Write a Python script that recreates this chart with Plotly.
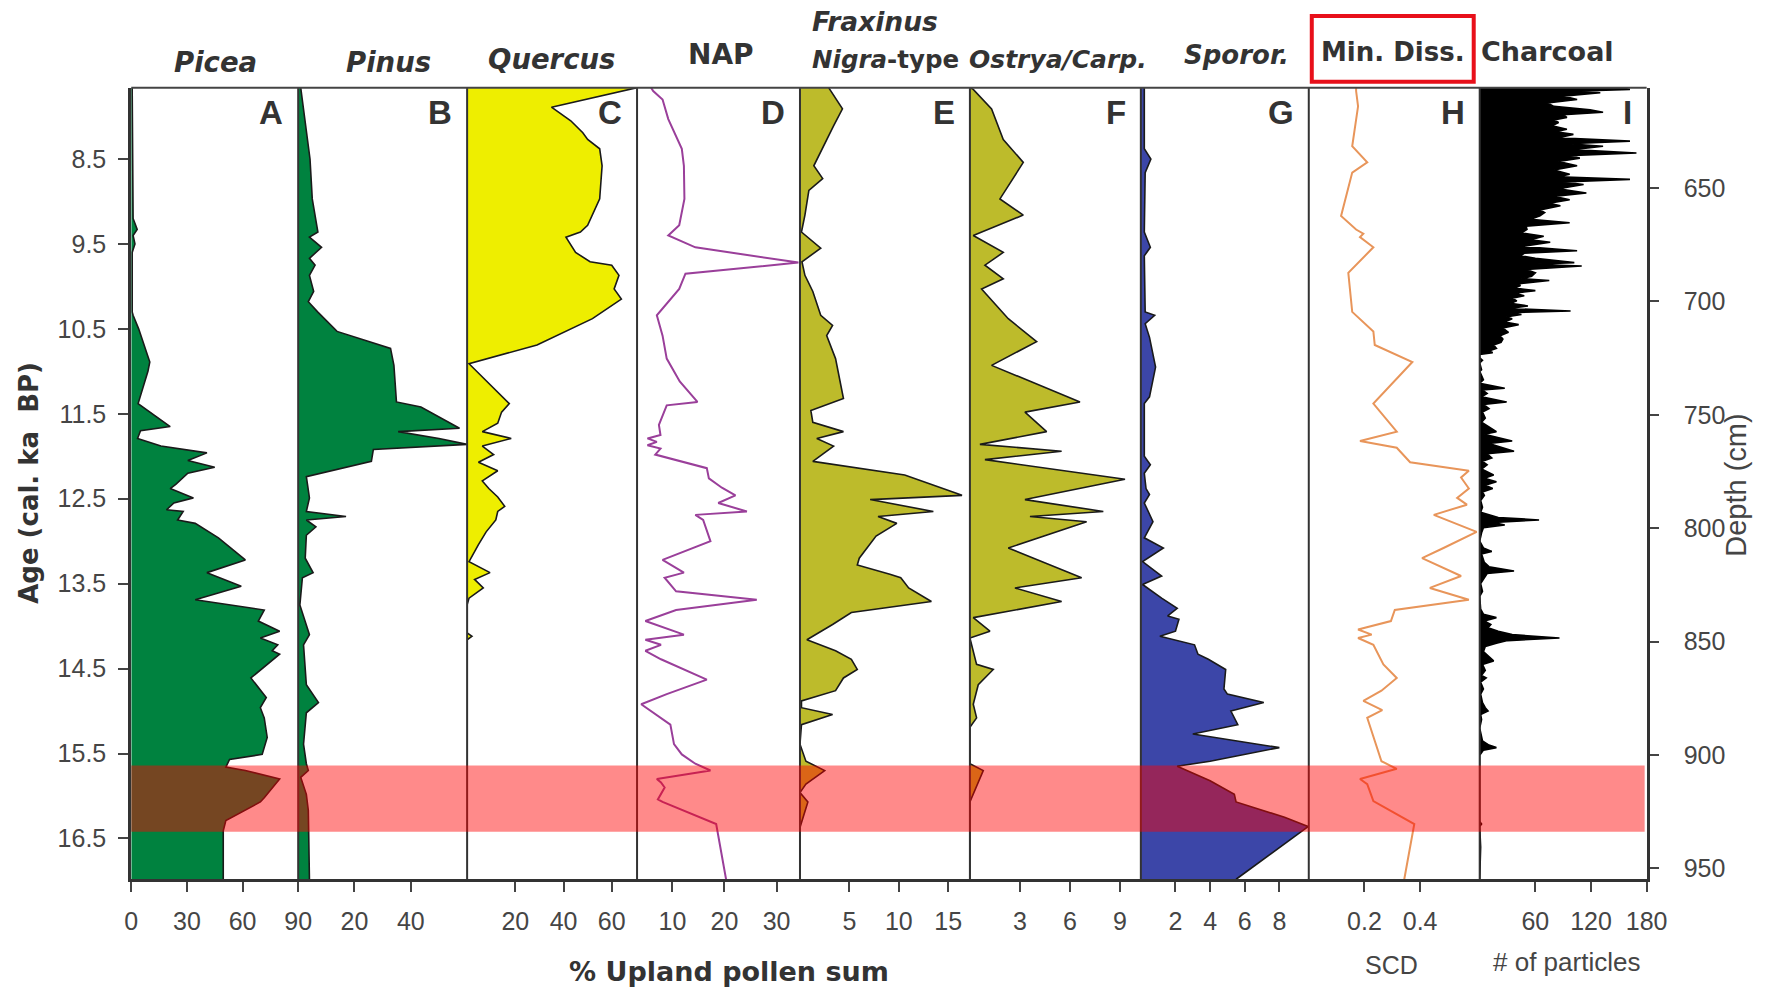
import plotly.graph_objects as go

# ---------------- data (age in cal. ka BP, value on panel scale) ----------------
PICEA = [(7.66, 0.5), (8.5, 0.8), (9.2, 1), (9.33, 3.2), (9.4, 1), (9.5, 2), (9.6, 0.5), (10.3, 0.5),
         (10.34, 1), (10.5, 4), (10.89, 10), (11.0, 9), (11.2, 6), (11.38, 3.7), (11.65, 21), (11.7, 5),
         (11.79, 3.4), (11.88, 16), (11.96, 40.8), (12.05, 30.5), (12.13, 45), (12.2, 30.5), (12.33, 24),
         (12.38, 21), (12.49, 33.5), (12.55, 23), (12.63, 19), (12.65, 28), (12.75, 25), (12.79, 34.5),
         (12.96, 47), (13.22, 61.5), (13.37, 40.8), (13.53, 59.3), (13.69, 34.5), (13.81, 71.7),
         (13.94, 68.5), (14.06, 80), (14.14, 69.6), (14.22, 79), (14.29, 76), (14.33, 80), (14.61, 64.5),
         (14.84, 72.8), (14.96, 69.6), (15.08, 71.7), (15.31, 73.3), (15.51, 70.6), (15.57, 53),
         (15.66, 51), (15.70, 61.5), (15.80, 80), (16.02, 71.7), (16.07, 69.6), (16.29, 51),
         (16.41, 49.6), (16.98, 49.6)]

PINUS = [(7.66, 0.9), (8.19, 2.9), (8.5, 4.2), (8.97, 5), (9.36, 7), (9.42, 4), (9.54, 8.3), (9.67, 4),
         (9.75, 6), (9.87, 4), (10.06, 5.5), (10.18, 3.6), (10.3, 6.9), (10.53, 13.8), (10.73, 32.8),
         (10.93, 34), (11.36, 34.9), (11.42, 43.6), (11.67, 57.3), (11.71, 35.5), (11.79, 50),
         (11.86, 60), (11.92, 26.7), (12.06, 26), (12.24, 2.9), (12.49, 4), (12.65, 2.9), (12.71, 17),
         (12.75, 2.9), (12.83, 6.3), (12.93, 2.9), (13.2, 2.5), (13.37, 5.3), (13.43, 1.5), (13.75, 0.6),
         (14.1, 4), (14.22, 1.9), (14.69, 2.9), (14.9, 7.2), (15.02, 2.9), (15.39, 1.9), (15.62, 2.9),
         (15.70, 3.6), (15.78, 0.9), (15.98, 2.9), (16.17, 3.6), (16.98, 4)]

QUERCUS = [(7.66, 70.5), (7.89, 35), (8.05, 43), (8.19, 48), (8.27, 50), (8.38, 55), (8.58, 56),
           (8.97, 55), (9.28, 50), (9.36, 47), (9.42, 41), (9.6, 45), (9.71, 51), (9.75, 60), (9.87, 63),
           (10.03, 61), (10.15, 64), (10.3, 56), (10.38, 52), (10.69, 29), (10.91, 0.8), (11.38, 17.5),
           (11.48, 14.3), (11.61, 12.7), (11.71, 6.3), (11.79, 18.3), (11.88, 6.3), (11.98, 11),
           (12.07, 4.7), (12.17, 12.7), (12.29, 6.3), (12.38, 9), (12.48, 12.7), (12.59, 15.6),
           (12.65, 12.7), (12.75, 11.9), (12.89, 7.9), (13.04, 4.7), (13.24, 0.8), (13.37, 9.5),
           (13.45, 3.1), (13.55, 6.7), (13.67, 0.8), (13.75, 0), (14.08, 0), (14.12, 2), (14.16, 0),
           (16.98, 0)]

NAP = [(7.66, 5.9), (7.70, 6.3), (7.80, 8.1), (8.03, 9.2), (8.38, 11.8), (8.58, 12.2), (8.97, 12.3),
       (9.28, 11.3), (9.40, 9.2), (9.54, 14.4), (9.72, 34.2), (9.85, 12.5), (10.03, 11.3), (10.34, 7),
       (10.58, 8.1), (10.85, 8.9), (11.12, 11.4), (11.36, 14.8), (11.40, 8.9), (11.63, 7.4), (11.75, 7.7),
       (11.79, 5.2), (11.83, 7), (11.87, 5.2), (11.91, 7.7), (11.98, 6.7), (12.14, 16.6), (12.26, 17),
       (12.37, 19.5), (12.46, 22.1), (12.55, 18.8), (12.65, 24.3), (12.69, 14.4), (12.75, 15.9),
       (13.0, 17.3), (13.22, 8.1), (13.37, 12.2), (13.43, 8.5), (13.59, 10.7), (13.69, 26.2),
       (13.81, 10.7), (13.94, 4.8), (14.1, 12.2), (14.16, 4.8), (14.22, 7.8), (14.29, 4.8), (14.39, 7.8),
       (14.63, 16.6), (14.8, 8.9), (14.92, 4), (15.16, 9.6), (15.39, 10.3), (15.51, 11.8), (15.62, 14.4),
       (15.7, 17.3), (15.8, 7), (15.84, 7.8), (15.9, 8.5), (16.04, 7.2), (16.07, 8.1), (16.33, 18.4),
       (16.98, 20.3)]

FRAXINUS = [(7.66, 2.9), (7.91, 4.3), (8.11, 3.4), (8.42, 2.1), (8.58, 1.4), (8.73, 2.3), (8.87, 0.9),
            (9.16, 0.5), (9.36, 0.15), (9.55, 2.1), (9.71, 0.2), (9.87, 0.5), (10.06, 1.3), (10.34, 2.1),
            (10.46, 3.3), (10.58, 2.7), (10.85, 3.6), (11.32, 4.4), (11.46, 1.1), (11.6, 1.3),
            (11.71, 4.4), (11.79, 1.7), (11.88, 3.4), (12.06, 1.3), (12.22, 10.6), (12.46, 16.4),
            (12.51, 7.1), (12.65, 13.5), (12.71, 7.9), (12.79, 9.8), (12.94, 7.7), (13.2, 6), (13.28, 5.8),
            (13.39, 9.1), (13.43, 10.2), (13.55, 11), (13.71, 13.3), (13.84, 5.2), (13.98, 3.3),
            (14.16, 0.7), (14.29, 3.6), (14.39, 5.2), (14.51, 5.8), (14.61, 4.4), (14.76, 3.6),
            (14.88, 0.15), (14.96, 0.15), (15.04, 3.3), (15.16, 0.15), (15.39, 0), (15.59, 0.6),
            (15.7, 2.5), (15.86, 0.6), (15.96, 0), (16.07, 0.8), (16.37, 0), (16.98, 0)]

OSTRYA = [(7.66, 0), (7.68, 0.2), (7.91, 1.3), (8.27, 2), (8.54, 3.2), (8.81, 2.3), (8.97, 1.8),
          (9.16, 3.2), (9.40, 0.2), (9.6, 2), (9.75, 0.9), (9.91, 2), (10.03, 0.7), (10.38, 2.3),
          (10.65, 4), (10.93, 1.3), (11.36, 6.6), (11.48, 3.3), (11.71, 4.6), (11.86, 0.6), (11.94, 5.5),
          (12.04, 0.9), (12.27, 9.3), (12.51, 3.3), (12.65, 8), (12.71, 3.6), (12.77, 7), (13.08, 2.3),
          (13.43, 6.7), (13.55, 2.7), (13.71, 5.5), (13.9, 0.2), (14.06, 1.2), (14.14, 0), (14.45, 0.4),
          (14.51, 1.4), (14.69, 0.5), (14.92, 0.2), (15.08, 0.4), (15.19, 0), (15.62, 0), (15.7, 0.8),
          (16.07, 0), (16.98, 0)]

SPOROR = [(7.66, 0.2), (8.38, 0.2), (8.5, 0.58), (8.66, 0.25), (9.36, 0.2), (9.54, 0.55), (9.64, 0.2),
          (10.3, 0.25), (10.34, 0.8), (10.44, 0.25), (10.6, 0.5), (10.95, 0.85), (11.3, 0.5), (11.38, 0.2),
          (12.0, 0.2), (12.1, 0.55), (12.2, 0.2), (12.38, 0.3), (12.45, 0.5), (12.55, 0.2), (12.77, 0.7),
          (12.96, 0.2), (13.08, 1.3), (13.24, 0.1), (13.41, 1.2), (13.51, 0.1), (13.67, 1.2), (13.79, 2.1),
          (13.88, 1.55), (13.92, 2.2), (14.06, 2.0), (14.12, 1.1), (14.22, 3.1), (14.33, 3.3), (14.39, 3.9),
          (14.51, 4.9), (14.74, 4.8), (14.8, 5.0), (14.9, 7.1), (15.0, 5.2), (15.16, 5.6), (15.27, 3.0),
          (15.43, 8.0), (15.59, 4.0), (15.65, 2.1), (15.82, 4), (15.98, 5.4), (16.07, 5.5), (16.25, 8.3),
          (16.36, 9.66), (16.98, 5.5)]

MIN_DISS = [(7.66, 0.17), (7.70, 0.17), (7.88, 0.177), (8.35, 0.156), (8.54, 0.21), (8.66, 0.156),
            (9.17, 0.116), (9.33, 0.17), (9.38, 0.196), (9.42, 0.184), (9.54, 0.232), (9.84, 0.142),
            (10.3, 0.156), (10.53, 0.232), (10.69, 0.237), (10.89, 0.372), (11.38, 0.232), (11.71, 0.316),
            (11.82, 0.184), (11.9, 0.316), (12.07, 0.364), (12.17, 0.575), (12.25, 0.547), (12.38, 0.575),
            (12.49, 0.533), (12.57, 0.568), (12.69, 0.449), (12.89, 0.603), (13.08, 0.484), (13.2, 0.407),
            (13.41, 0.547), (13.55, 0.435), (13.69, 0.575), (13.81, 0.309), (13.94, 0.295), (14.04, 0.177),
            (14.1, 0.226), (14.14, 0.177), (14.22, 0.232), (14.45, 0.268), (14.61, 0.316), (14.76, 0.261),
            (14.88, 0.196), (14.99, 0.264), (15.08, 0.21), (15.31, 0.232), (15.59, 0.261), (15.68, 0.316),
            (15.8, 0.184), (15.86, 0.21), (16.06, 0.232), (16.33, 0.379), (16.98, 0.343)]

CHARCOAL = [(7.66, 150), (7.68, 162), (7.70, 110), (7.72, 130), (7.76, 90), (7.80, 105), (7.84, 73),
            (7.88, 80), (7.92, 119), (7.95, 133), (7.98, 90), (8.01, 94), (8.04, 80), (8.07, 85),
            (8.11, 78), (8.15, 94), (8.18, 82), (8.21, 101), (8.25, 85), (8.29, 162), (8.32, 95),
            (8.35, 133), (8.39, 100), (8.43, 169), (8.46, 95), (8.49, 108), (8.53, 85), (8.58, 105),
            (8.63, 80), (8.68, 97), (8.71, 85), (8.74, 162), (8.77, 90), (8.80, 112), (8.85, 85),
            (8.90, 115), (8.94, 80), (8.98, 97), (9.02, 75), (9.05, 87), (9.10, 65), (9.13, 70),
            (9.17, 65), (9.21, 55), (9.25, 97), (9.29, 50), (9.33, 51), (9.37, 45), (9.41, 69),
            (9.45, 55), (9.48, 76), (9.53, 45), (9.58, 105), (9.61, 48), (9.64, 44), (9.67, 60),
            (9.72, 102), (9.74, 55), (9.76, 110), (9.80, 50), (9.84, 60), (9.88, 56), (9.91, 45),
            (9.93, 75), (9.97, 40), (9.99, 44), (10.02, 38), (10.05, 60), (10.08, 38), (10.11, 48),
            (10.14, 35), (10.17, 40), (10.20, 33), (10.23, 52), (10.26, 32), (10.29, 98), (10.31, 32),
            (10.33, 45), (10.36, 28), (10.38, 35), (10.42, 27), (10.45, 42), (10.49, 25), (10.54, 31),
            (10.58, 22), (10.62, 25), (10.66, 23), (10.69, 15), (10.73, 18), (10.76, 10), (10.78, 14),
            (10.80, 0), (10.84, 0), (10.87, 3), (10.9, 0), (10.98, 2), (11.0, 0), (11.1, 4), (11.14, 0),
            (11.2, 27), (11.22, 3), (11.26, 8), (11.3, 2), (11.36, 29), (11.39, 4), (11.44, 10),
            (11.48, 3), (11.55, 6), (11.6, 2), (11.66, 10), (11.71, 18), (11.74, 5), (11.79, 22),
            (11.82, 35), (11.85, 10), (11.9, 25), (11.94, 37), (11.97, 8), (12.02, 13), (12.06, 3),
            (12.1, 8), (12.15, 2), (12.22, 15), (12.26, 5), (12.3, 18), (12.34, 6), (12.38, 14),
            (12.42, 3), (12.46, 5), (12.52, 1), (12.6, 3), (12.66, 1), (12.72, 20), (12.75, 64),
            (12.78, 15), (12.81, 27), (12.84, 4), (12.9, 2), (13.0, 0), (13.08, 4), (13.12, 13),
            (13.15, 2), (13.25, 5), (13.3, 10), (13.35, 37), (13.38, 8), (13.43, 5), (13.5, 1),
            (13.59, 3), (13.65, 0), (13.8, 1), (13.86, 4), (13.9, 18), (13.94, 5), (13.98, 12),
            (14.02, 9), (14.06, 20), (14.1, 35), (14.14, 86), (14.17, 30), (14.2, 18), (14.24, 6),
            (14.3, 4), (14.36, 10), (14.41, 15), (14.45, 3), (14.52, 6), (14.58, 2), (14.61, 7),
            (14.66, 1), (14.74, 4), (14.8, 1), (14.9, 3), (14.96, 6), (15.0, 9), (15.04, 1), (15.1, 2),
            (15.2, 0), (15.35, 3), (15.4, 10), (15.43, 18), (15.46, 4), (15.52, 0), (16.3, 0),
            (16.33, 2), (16.36, 0), (16.6, 1), (16.98, 0)]

AGE_TICKS = [8.5, 9.5, 10.5, 11.5, 12.5, 13.5, 14.5, 15.5, 16.5]
DEPTH_TICKS = [650, 700, 750, 800, 850, 900, 950]
AGE_RANGE = [16.981, 7.661]
DEPTH_RANGE = [954.8, 605.8]
BAND = (15.64, 16.42)

PANELS = [
    dict(data=PICEA, rng=[0, 90], ticks=[0, 30, 60, 90], color="#00823f", fill=True, letter="A"),
    dict(data=PINUS, rng=[0, 60], ticks=[20, 40], color="#00823f", fill=True, letter="B"),
    dict(data=QUERCUS, rng=[0, 70.5], ticks=[20, 40, 60], color="#eeee00", fill=True, letter="C"),
    dict(data=NAP, rng=[3.2, 34.5], ticks=[10, 20, 30], color="#9a3f9a", fill=False, letter="D"),
    dict(data=FRAXINUS, rng=[0, 17.2], ticks=[5, 10, 15], color="#bdbb2b", fill=True, letter="E"),
    dict(data=OSTRYA, rng=[0, 10.25], ticks=[3, 6, 9], color="#bdbb2b", fill=True, letter="F"),
    dict(data=SPOROR, rng=[0, 9.7], ticks=[2, 4, 6, 8], color="#3c46a8", fill=True, letter="G"),
    dict(data=MIN_DISS, rng=[0, 0.614], ticks=[0.2, 0.4], color="#e8955a", fill=False, letter="H"),
    dict(data=CHARCOAL, rng=[0, 180], ticks=[60, 120, 180], color="#000000", fill=True, letter="I"),
]

# ---------------- layout geometry (target pixel positions) ----------------
W, H = 1773, 993
EDGES = [131, 298, 467, 637, 800, 970, 1141, 1309, 1480, 1647]
TOP, BOTTOM = 88, 882
TICK_FONT = "Liberation Sans, Arial, sans-serif"
TITLE_FONT = "DejaVu Sans, sans-serif"
AXCOL = "#333333"
# horizontal calibration of the captured page
X_SCALE, X_OFF = 0.9846, 6.7


def px(x):
    return (x - X_OFF) / X_SCALE / W


def py(y):
    return 1 - y / H


fig = go.Figure()
layout = dict(width=W, height=H, margin=dict(l=0, r=0, t=0, b=0), paper_bgcolor="white",
              plot_bgcolor="white", showlegend=False)

for i, p in enumerate(PANELS):
    suffix = "" if i == 0 else str(i + 1)
    ages = [a for a, v in p["data"]]
    vals = [v for a, v in p["data"]]
    if p["fill"]:
        line = dict(color="#1a1a1a" if p["letter"] != "I" else "#000000", width=1.6)
        fig.add_trace(go.Scatter(x=vals, y=ages, xaxis="x" + suffix, yaxis="y", mode="lines",
                                 line=line, fill="tozerox", fillcolor=p["color"], hoverinfo="skip"))
    else:
        fig.add_trace(go.Scatter(x=vals, y=ages, xaxis="x" + suffix, yaxis="y", mode="lines",
                                 line=dict(color=p["color"], width=2), hoverinfo="skip"))
    layout["xaxis" + suffix] = dict(
        domain=[px(EDGES[i]), px(EDGES[i + 1])], range=p["rng"], anchor="y",
        tickvals=p["ticks"], ticktext=[str(t) for t in p["ticks"]], ticks="outside", ticklen=10,
        tickwidth=2, tickcolor="#444444", showline=True, linecolor=AXCOL, linewidth=3,
        showgrid=False, zeroline=False, ticklabelstandoff=8,
        tickfont=dict(family=TICK_FONT, size=25, color="#454545"))

# depth axis helper trace (no visible marks)
fig.add_trace(go.Scatter(x=[None], y=[None], xaxis="x9", yaxis="y2", mode="lines", hoverinfo="skip"))

layout["yaxis"] = dict(domain=[py(BOTTOM), py(TOP)], range=AGE_RANGE, anchor="x",
                       tickvals=AGE_TICKS, ticktext=[str(t) for t in AGE_TICKS], ticks="outside",
                       ticklen=10, tickwidth=2, tickcolor="#444444", showline=True, linecolor=AXCOL,
                       linewidth=3, showgrid=False, zeroline=False, ticklabelstandoff=7,
                       tickfont=dict(family=TICK_FONT, size=25, color="#454545"))
layout["yaxis2"] = dict(overlaying="y", side="right", anchor="x9", range=DEPTH_RANGE,
                        tickvals=DEPTH_TICKS, ticktext=[str(t) for t in DEPTH_TICKS], ticks="outside",
                        ticklen=9, tickwidth=2, tickcolor="#444444", showline=True, linecolor=AXCOL,
                        linewidth=3, showgrid=False, zeroline=False, ticklabelstandoff=20,
                        tickfont=dict(family=TICK_FONT, size=25, color="#454545"))

shapes = []
for e in EDGES[1:-1]:
    shapes.append(dict(type="line", xref="paper", yref="paper", x0=px(e), x1=px(e),
                       y0=py(BOTTOM), y1=py(TOP), line=dict(color=AXCOL, width=2)))
shapes.append(dict(type="line", xref="paper", yref="paper", x0=px(EDGES[0]), x1=px(EDGES[-1]),
                   y0=py(TOP), y1=py(TOP), line=dict(color="#444444", width=2)))
shapes.append(dict(type="rect", xref="paper", yref="y", x0=px(EDGES[0]), x1=px(EDGES[-1] - 2),
                   y0=BAND[0], y1=BAND[1], fillcolor="rgba(255,0,0,0.46)", line=dict(width=0),
                   layer="above"))
shapes.append(dict(type="rect", xref="paper", yref="paper", x0=px(1312), x1=px(1474),
                   y0=py(82), y1=py(16), line=dict(color="#e8101a", width=4),
                   fillcolor="rgba(0,0,0,0)"))
layout["shapes"] = shapes

ann = []
for i, p in enumerate(PANELS):
    ann.append(dict(xref="paper", yref="paper", x=px(EDGES[i + 1] - 13), y=py(113),
                    text="<b>%s</b>" % p["letter"], showarrow=False, xanchor="right", yanchor="middle",
                    font=dict(family=TICK_FONT, size=33, color="#333333")))

TITLES = [
    ("<b><i>Picea</i></b>", 215, 62, "center", 27.5),
    ("<b><i>Pinus</i></b>", 388, 62, "center", 27.5),
    ("<b><i>Quercus</i></b>", 551, 59, "center", 27.5),
    ("<b>NAP</b>", 721, 55, "center", 28),
    ("<b><i>Fraxinus</i></b>", 810, 22, "left", 26.5),
    ("<b><i>Nigra</i>-type</b>", 810, 60, "left", 24.5),
    ("<b><i>Ostrya/Carp.</i></b>", 1058, 60, "center", 25),
    ("<b><i>Sporor.</i></b>", 1237, 55, "center", 26),
    ("<b>Min. Diss.</b>", 1393, 52, "center", 26),
    ("<b>Charcoal</b>", 1548, 52, "center", 27),
]
for text, x, y, anchor, size in TITLES:
    ann.append(dict(xref="paper", yref="paper", x=px(x), y=py(y), text=text, showarrow=False,
                    xanchor=anchor, yanchor="middle",
                    font=dict(family=TITLE_FONT, size=size, color="#333333")))

ann.append(dict(xref="paper", yref="paper", x=px(28), y=py(484), text="<b>Age (cal. ka  BP)</b>",
                showarrow=False, textangle=-90, xanchor="center", yanchor="middle",
                font=dict(family=TITLE_FONT, size=26, color="#333333")))
ann.append(dict(xref="paper", yref="paper", x=min(px(1745), (W - 17) / W), y=py(487), text="Depth (cm)",
                showarrow=False, textangle=-90, xanchor="center", yanchor="middle",
                font=dict(family=TICK_FONT, size=29, color="#454545")))
ann.append(dict(xref="paper", yref="paper", x=px(729), y=py(974), text="<b>% Upland pollen sum</b>",
                showarrow=False, xanchor="center", yanchor="middle",
                font=dict(family=TITLE_FONT, size=27, color="#333333")))
ann.append(dict(xref="paper", yref="paper", x=px(1392), y=py(968), text="SCD",
                showarrow=False, xanchor="center", yanchor="middle",
                font=dict(family=TICK_FONT, size=25, color="#454545")))
ann.append(dict(xref="paper", yref="paper", x=px(1567), y=py(965), text="# of particles",
                showarrow=False, xanchor="center", yanchor="middle",
                font=dict(family=TICK_FONT, size=26, color="#454545")))
layout["annotations"] = ann

fig.update_layout(**layout)
fig.write_html("out.html")
